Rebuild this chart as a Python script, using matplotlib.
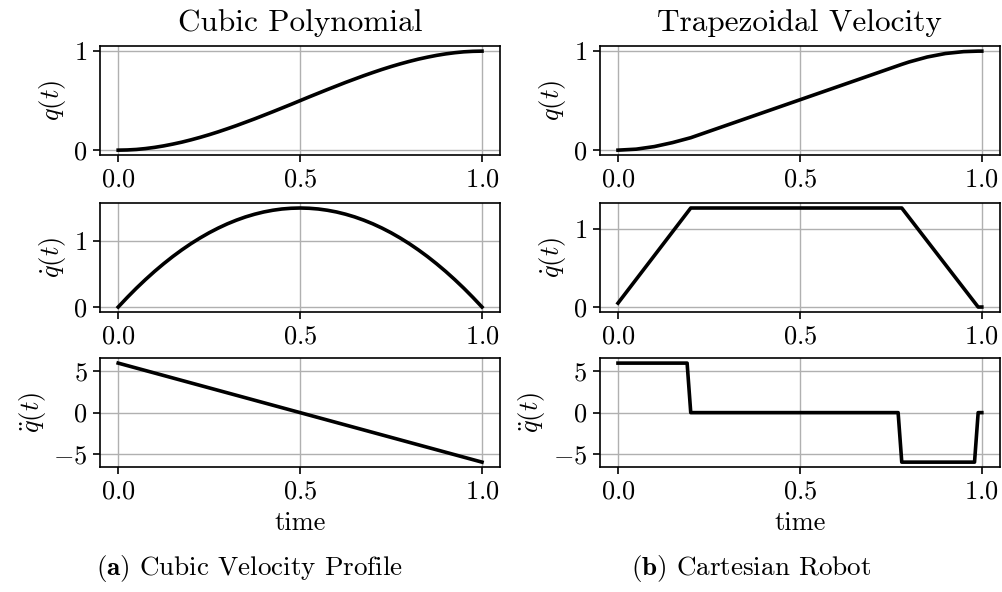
import matplotlib
matplotlib.use("Agg")
import matplotlib.pyplot as plt

plt.rcParams["font.family"] = "serif"
plt.rcParams["font.serif"] = ["cmr10"]
plt.rcParams["mathtext.fontset"] = "cm"
plt.rcParams["axes.formatter.use_mathtext"] = True
plt.rcParams["axes.unicode_minus"] = True

# cubic polynomial profile (at 0.025 steps)
t_cubic = [0.0, 0.025, 0.05, 0.075, 0.1, 0.125, 0.15, 0.175, 0.2, 0.225,
           0.25, 0.275, 0.3, 0.325, 0.35, 0.375, 0.4, 0.425, 0.45, 0.475,
           0.5, 0.525, 0.55, 0.575, 0.6, 0.625, 0.65, 0.675, 0.7, 0.725,
           0.75, 0.775, 0.8, 0.825, 0.85, 0.875, 0.9, 0.925, 0.95, 0.975, 1.0]
q_cubic = [0.0, 0.002, 0.007, 0.016, 0.028, 0.043, 0.061, 0.081, 0.104, 0.129,
           0.156, 0.185, 0.216, 0.248, 0.282, 0.316, 0.352, 0.388, 0.425, 0.462,
           0.5, 0.538, 0.575, 0.612, 0.648, 0.684, 0.718, 0.752, 0.784, 0.815,
           0.844, 0.871, 0.896, 0.919, 0.939, 0.957, 0.972, 0.984, 0.993, 0.998, 1.0]
qd_cubic = [0.0, 0.146, 0.285, 0.416, 0.54, 0.656, 0.765, 0.866, 0.96, 1.046,
            1.125, 1.196, 1.26, 1.316, 1.365, 1.406, 1.44, 1.466, 1.485, 1.496,
            1.5, 1.496, 1.485, 1.466, 1.44, 1.406, 1.365, 1.316, 1.26, 1.196,
            1.125, 1.046, 0.96, 0.866, 0.765, 0.656, 0.54, 0.416, 0.285, 0.146, 0.0]
qdd_cubic = [6.0, 5.7, 5.4, 5.1, 4.8, 4.5, 4.2, 3.9, 3.6, 3.3,
             3.0, 2.7, 2.4, 2.1, 1.8, 1.5, 1.2, 0.9, 0.6, 0.3,
             0.0, -0.3, -0.6, -0.9, -1.2, -1.5, -1.8, -2.1, -2.4, -2.7,
             -3.0, -3.3, -3.6, -3.9, -4.2, -4.5, -4.8, -5.1, -5.4, -5.7, -6.0]

# trapezoidal velocity profile
t_trap_q = [0.0, 0.05, 0.1, 0.15, 0.2, 0.3, 0.4, 0.5, 0.6, 0.7, 0.78,
            0.8, 0.85, 0.9, 0.95, 0.99, 1.0]
q_trap = [0.0, 0.010, 0.036, 0.076, 0.125, 0.252, 0.379, 0.506, 0.633, 0.760, 0.862,
          0.886, 0.936, 0.971, 0.990, 0.995, 0.995]
t_trap_qd = [0.0, 0.2, 0.78, 0.99, 1.0]
qd_trap = [0.05, 1.27, 1.27, 0.0, 0.0]
t_trap_qdd = [0.0, 0.19, 0.2, 0.77, 0.78, 0.98, 0.99, 1.0]
qdd_trap = [6.0, 6.0, 0.0, 0.0, -6.0, -6.0, 0.0, 0.0]

ylabels = [r"$q(t)$", r"$\dot{q}(t)$", r"$\ddot{q}(t)$"]
yticks = [[0, 1], [0, 1], [-5, 0, 5]]

columns = [
    ("Cubic Polynomial", [q_cubic, qd_cubic, qdd_cubic], [t_cubic, t_cubic, t_cubic]),
    ("Trapezoidal Velocity", [q_trap, qd_trap, qdd_trap], [t_trap_q, t_trap_qd, t_trap_qdd]),
]

fig = plt.figure(figsize=(10.03, 5.92), dpi=100)

lefts = [0.0997, 0.598]
bottoms = [0.738, 0.473, 0.211]
w, h = 0.399, 0.184

for c, (title, ys, ts) in enumerate(columns):
    for r in range(3):
        ax = fig.add_axes([lefts[c], bottoms[r], w, h])
        ax.plot(ts[r], ys[r], color="black", lw=2.6, solid_joinstyle="round")
        ax.grid(True, color="#b0b0b0", lw=1.0)
        ax.set_axisbelow(True)
        ax.set_xticks([0.0, 0.5, 1.0])
        ax.set_yticks(yticks[r])
        ax.set_ylabel(ylabels[r], fontsize=19, labelpad=4)
        ax.tick_params(labelsize=19, width=1.2, length=5, pad=4)
        for s in ax.spines.values():
            s.set_linewidth(1.2)
        if r == 0:
            ax.set_title(title, fontsize=22.5, pad=11)
        if r == 2:
            ax.set_xlabel("time", fontsize=19, labelpad=6)

fig.text(250 / 1003, 1 - 569 / 592, r"$\mathbf{(a)}$ Cubic Velocity Profile",
         ha="center", va="center", fontsize=19.5)
fig.text(751 / 1003, 1 - 569 / 592, r"$\mathbf{(b)}$ Cartesian Robot",
         ha="center", va="center", fontsize=19.5)

fig.savefig("out.png", dpi=100)
